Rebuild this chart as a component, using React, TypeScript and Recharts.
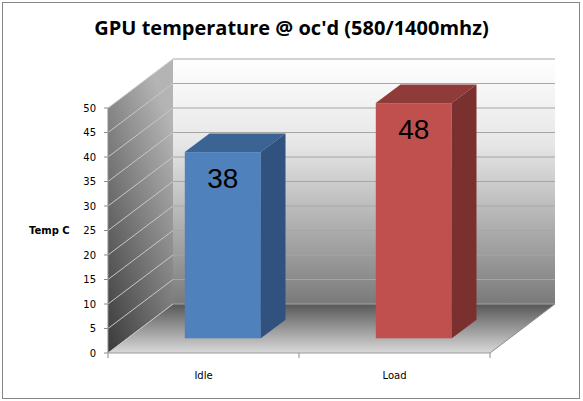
import { Bar, BarChart, CartesianGrid, Cell, LabelList, XAxis, YAxis } from "recharts";

const categories = ["Idle", "Load"];
const temps = [38, 48];
const yTicks = [0, 5, 10, 15, 20, 25, 30, 35, 40, 45, 50];

const data = categories.map((name, i) => ({ name, temp: temps[i] }));

// front / top / side shading for each column
const faces = [
  { front: "#4f81bd", top: "#3b6394", side: "#31527f" },
  { front: "#c0504d", top: "#8f3b39", side: "#7a302e" },
];

// oblique projection of the depth axis (front plane -> back wall)
const DX = 65;
const DY = 49;
const BAR_FRONT = 0.3;
const BAR_DEPTH = 0.38;

const tickFont = "DejaVu Sans, Verdana, sans-serif";

function WallLine(props: any) {
  const { x1, y1, x2, index, x, y, width, height } = props;
  const bottom = y + height;
  const right = x + width;
  return (
    <g key={`wall-${index}`}>
      {index === 0 && (
        <>
          <defs>
            <linearGradient id="backWall" x1="0" y1="0" x2="0" y2="1">
              <stop offset="0%" stopColor="#ffffff" />
              <stop offset="35%" stopColor="#e6e6e6" />
              <stop offset="100%" stopColor="#7a7a7a" />
            </linearGradient>
            <linearGradient id="sideWall" x1="0.6" y1="0" x2="0" y2="1">
              <stop offset="0%" stopColor="#b4b4b4" />
              <stop offset="100%" stopColor="#3a3a3a" />
            </linearGradient>
            <linearGradient id="floor" x1="0" y1="0" x2="0" y2="1">
              <stop offset="0%" stopColor="#575757" />
              <stop offset="100%" stopColor="#d9d9d9" />
            </linearGradient>
          </defs>
          <polygon
            points={`${x},${y} ${x + DX},${y - DY} ${x + DX},${bottom - DY} ${x},${bottom}`}
            fill="url(#sideWall)"
          />
          <rect x={x + DX} y={y - DY} width={width} height={height} fill="url(#backWall)" />
          <polygon
            points={`${x},${bottom} ${x + DX},${bottom - DY} ${right + DX},${bottom - DY} ${right},${bottom}`}
            fill="url(#floor)"
          />
          <line x1={right} y1={bottom} x2={right + DX} y2={bottom - DY} stroke="#8c8c8c" />
          {categories.concat([""]).map((_, i) => {
            const tx = x + (i * width) / categories.length;
            return <line key={`ct-${i}`} x1={tx} y1={bottom} x2={tx} y2={bottom + 5} stroke="#8c8c8c" />;
          })}
        </>
      )}
      <line x1={x1} y1={y1} x2={x1 + DX} y2={y1 - DY} stroke="#c8c8c8" />
      <line x1={x1 + DX} y1={y1 - DY} x2={x2 + DX} y2={y1 - DY} stroke="#a6a6a6" />
    </g>
  );
}

function Box3D(props: any) {
  const { x, y, width, height, index } = props;
  const c = faces[index];
  const fx = x + DX * BAR_FRONT;
  const fy = y - DY * BAR_FRONT;
  const dx = DX * BAR_DEPTH;
  const dy = DY * BAR_DEPTH;
  return (
    <g>
      <rect x={fx} y={fy} width={width} height={height} fill={c.front} />
      <polygon
        points={`${fx},${fy} ${fx + dx},${fy - dy} ${fx + width + dx},${fy - dy} ${fx + width},${fy}`}
        fill={c.top}
      />
      <polygon
        points={`${fx + width},${fy} ${fx + width + dx},${fy - dy} ${fx + width + dx},${fy + height - dy} ${fx + width},${fy + height}`}
        fill={c.side}
      />
    </g>
  );
}

function InsideValue(props: any) {
  const { x, y, width, value } = props;
  return (
    <text
      x={x + width / 2 + DX * BAR_FRONT}
      y={y - DY * BAR_FRONT + 26.5}
      textAnchor="middle"
      dominantBaseline="central"
      fontSize={28}
      fontFamily="Liberation Sans, Arial, sans-serif"
      fill="#000"
    >
      {value}
    </text>
  );
}

function CategoryTick(props: any) {
  const { x, y, payload } = props;
  return (
    <text x={x} y={y + 22} textAnchor="middle" dominantBaseline="central" fontSize={10} fontFamily={tickFont} fill="#000">
      {payload.value}
    </text>
  );
}

export default function App() {
  return (
    <div style={{ position: "absolute", left: 0, top: 0, width: 583, height: 401, background: "#fff" }}>
      <div
        style={{
          position: "absolute",
          left: 2,
          top: 2,
          width: 578,
          height: 397,
          boxSizing: "border-box",
          border: "1px solid #868686",
        }}
      />
      <div
        style={{
          position: "absolute",
          left: 0,
          top: 16,
          width: 583,
          textAlign: "center",
          fontFamily: "Open Sans, sans-serif",
          fontWeight: 700,
          fontSize: 20,
          lineHeight: "24px",
          color: "#000",
        }}
      >
        GPU temperature @ oc'd (580/1400mhz)
      </div>
      <div style={{ position: "absolute", left: 0, top: 0 }}>
        <BarChart
          width={583}
          height={401}
          data={data}
          margin={{ top: 108, right: 93, bottom: 18, left: 0 }}
          barCategoryGap="30%"
        >
          <CartesianGrid vertical={false} horizontal={(p: any) => <WallLine {...p} />} />
          <XAxis
            dataKey="name"
            height={30}
            tickLine={false}
            tickSize={0}
            tickMargin={0}
            axisLine={{ stroke: "#9a9a9a" }}
            tick={<CategoryTick />}
            interval={0}
          />
          <YAxis
            width={108}
            domain={[0, 50]}
            ticks={yTicks}
            interval={0}
            tickSize={4}
            tickMargin={8}
            axisLine={{ stroke: "#8c8c8c" }}
            tickLine={{ stroke: "#8c8c8c" }}
            tick={{ fontSize: 10, fontFamily: tickFont, fill: "#000" }}
            label={{
              value: "Temp C",
              position: "insideLeft",
              offset: 29,
              style: { fontSize: 10, fontWeight: 700, fontFamily: tickFont, fill: "#000" },
            }}
          />
          <Bar dataKey="temp" shape={(p: any) => <Box3D {...p} />} isAnimationActive={false}>
            {data.map((d, i) => (
              <Cell key={d.name} fill={faces[i].front} />
            ))}
            <LabelList dataKey="temp" content={(p: any) => <InsideValue {...p} />} />
          </Bar>
        </BarChart>
      </div>
    </div>
  );
}
